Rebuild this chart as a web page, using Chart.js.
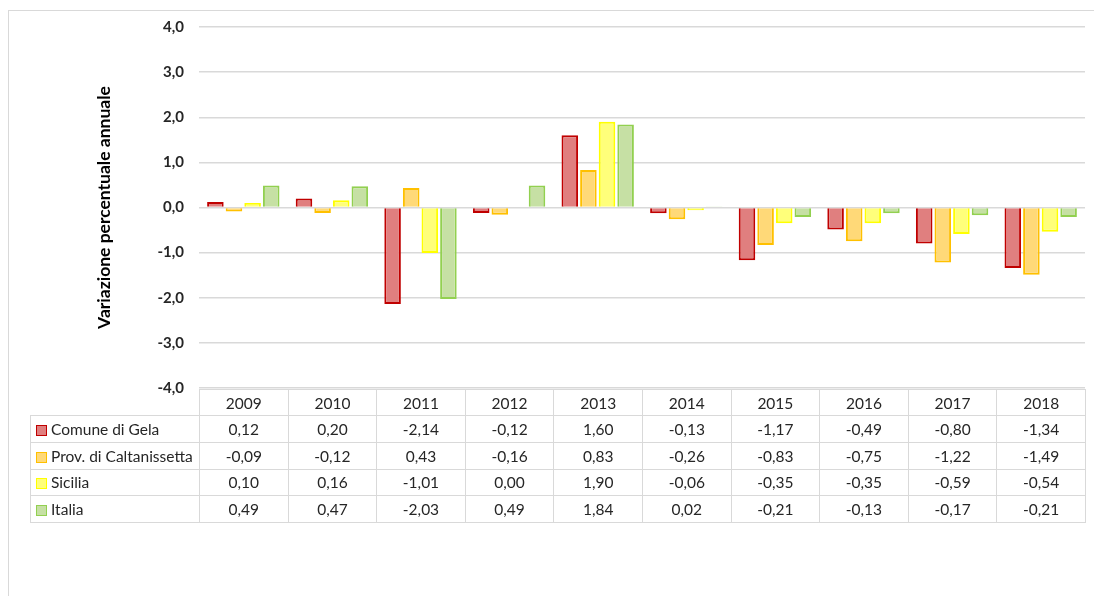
<!DOCTYPE html>
<html>
<head>
<meta charset="utf-8">
<script src="https://cdn.jsdelivr.net/npm/chart.js@4/dist/chart.umd.min.js"></script>
<style>
  html, body { margin: 0; padding: 0; width: 1094px; height: 596px; overflow: hidden; background: #fff; }
  #frame { position: absolute; left: 8px; top: 10px; width: 1200px; height: 700px; border: 1px solid #d9d9d9; box-sizing: border-box; }
  #wrap { position: absolute; left: 0; top: 0; width: 1094px; height: 412px; }
  #tbl { position: absolute; border-collapse: collapse; font-family: Lato, "Open Sans", sans-serif; font-size: 15.5px; color: #262626; table-layout: fixed; }
  #tbl td { border: 1.5px solid #d9d9d9; text-align: center; padding: 0; white-space: nowrap; overflow: hidden; }
  #tbl td.blank { border: none; border-bottom: 1.5px solid #d9d9d9; }
  #tbl td.lab { text-align: left; padding-left: 5px; }
  .sw { display: inline-block; width: 9px; height: 9px; border: 1.5px solid; margin-right: 4px; vertical-align: -1px; }
</style>
</head>
<body>
<div id="frame"></div>
<div id="wrap"><canvas id="c"></canvas></div>
<table id="tbl"></table>
<script>
const categories = ["2009","2010","2011","2012","2013","2014","2015","2016","2017","2018"];
const seriesNames = ["Comune di Gela","Prov. di Caltanissetta","Sicilia","Italia"];
const gela = [0.12, 0.20, -2.14, -0.12, 1.60, -0.13, -1.17, -0.49, -0.80, -1.34];
const caltanissetta = [-0.09, -0.12, 0.43, -0.16, 0.83, -0.26, -0.83, -0.75, -1.22, -1.49];
const sicilia = [0.10, 0.16, -1.01, 0.00, 1.90, -0.06, -0.35, -0.35, -0.59, -0.54];
const italia = [0.49, 0.47, -2.03, 0.49, 1.84, 0.02, -0.21, -0.13, -0.17, -0.21];
const yTicks = [-4, -3, -2, -1, 0, 1, 2, 3, 4];

const fills = ["#e07f7f", "#ffd978", "#ffff7a", "#c6e0a4"];
const borders = ["#c00000", "#ffc000", "#ffff00", "#92d050"];
const seriesValues = [gela, caltanissetta, sicilia, italia];

const fmt = (v, d) => v.toFixed(d).replace('.', ',');

const chart = new Chart(document.getElementById('c'), {
  type: 'bar',
  data: {
    labels: categories,
    datasets: seriesValues.map((vals, i) => ({
      label: seriesNames[i],
      data: vals,
      backgroundColor: fills[i],
      borderColor: borders[i],
      borderWidth: 2,
      barPercentage: 0.89,
      categoryPercentage: 0.84
    }))
  },
  options: {
    responsive: true,
    maintainAspectRatio: false,
    animation: false,
    layout: { padding: { top: 27, bottom: 0, right: 9, left: 0 } },
    plugins: { legend: { display: false }, tooltip: { enabled: false } },
    scales: {
      x: { display: false },
      y: {
        min: -4, max: 4,
        afterBuildTicks: (s) => { s.ticks = yTicks.map(v => ({ value: v })); },
        afterFit: (s) => { s.width = 199; },
        border: { display: false },
        grid: { color: '#d9d9d9', lineWidth: 1.5, drawTicks: false },
        ticks: {
          padding: 15,
          color: '#262626',
          font: { family: 'Lato, "Open Sans", sans-serif', size: 15, weight: 'bold' },
          callback: (v) => fmt(v, 1)
        },
        title: {
          display: true,
          text: 'Variazione percentuale annuale',
          color: '#000',
          font: { family: 'Lato, "Open Sans", sans-serif', size: 17.5, weight: 'bold' },
          padding: { top: 94, bottom: 0 }
        }
      }
    }
  }
});

// Build the data table below the plot, aligned with the category scale
const tbl = document.getElementById('tbl');
const ca = chart.chartArea;
const legW = 169;
const colW = (ca.right - ca.left) / categories.length;
tbl.style.left = (ca.left - legW) + 'px';
tbl.style.top = (ca.bottom + 1) + 'px';
tbl.style.width = (legW + colW * categories.length) + 'px';
let html = '<colgroup><col style="width:' + legW + 'px">' + categories.map(() => '<col style="width:' + colW + 'px">').join('') + '</colgroup>';
html += '<tr style="height:26px"><td class="blank"></td>' + categories.map(c => '<td>' + c + '</td>').join('') + '</tr>';
seriesValues.forEach((vals, i) => {
  html += '<tr style="height:26.75px"><td class="lab"><span class="sw" style="background:' + fills[i] + ';border-color:' + borders[i] + '"></span>' + seriesNames[i] + '</td>' +
    vals.map(v => '<td>' + fmt(v, 2) + '</td>').join('') + '</tr>';
});
tbl.innerHTML = html;
</script>
</body>
</html>
